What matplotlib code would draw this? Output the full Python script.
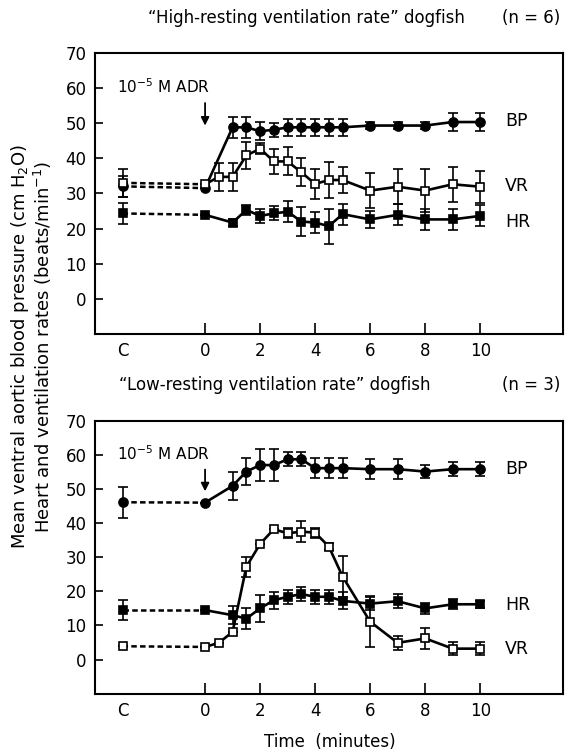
import matplotlib
matplotlib.use("Agg")
import matplotlib.pyplot as plt

plt.rcParams["font.family"] = ["DejaVu Sans"]

# time axis: -3 stands for the control value "C"
t_main = [-3, 0, 1, 1.5, 2, 2.5, 3, 3.5, 4, 4.5, 5, 6, 7, 8, 9, 10]
t_vr = [-3, 0, 0.5, 1, 1.5, 2, 2.5, 3, 3.5, 4, 4.5, 5, 6, 7, 8, 9, 10]

# "High-resting ventilation rate" dogfish (n = 6)
bp_hi = [32, 31.5, 48.8, 48.8, 47.7, 48.1, 48.8, 48.8, 48.8, 48.8, 48.8, 49.3, 49.3, 49.3, 50.3, 50.3]
bp_hi_err = [3, 0, 3, 3, 2.5, 2, 2.5, 2.5, 2.5, 2.5, 2.5, 1, 1, 1, 2.5, 2.5]
vr_hi = [33, 32.6, 34.7, 34.7, 40.8, 42.7, 39.1, 39.1, 36.0, 32.7, 33.8, 33.8, 30.8, 31.9, 30.8, 32.6, 31.9]
vr_hi_err = [4, 0, 4, 4, 3.8, 1.5, 3.5, 4, 4, 4.3, 5, 3.8, 5, 5, 6, 5, 4.5]
hr_hi = [24.3, 23.9, 21.7, 25.3, 23.6, 24.3, 24.8, 22.0, 21.7, 20.7, 24.1, 22.6, 23.9, 22.6, 22.6, 23.6]
hr_hi_err = [3, 0, 1, 1.5, 2, 2, 3, 4, 3, 5, 3, 2.5, 3, 3, 3, 3]

# "Low-resting ventilation rate" dogfish (n = 3)
bp_lo = [46.1, 46, 50.9, 55.1, 57, 57, 58.7, 58.7, 56.1, 56.1, 56.1, 55.8, 55.8, 55.1, 55.8, 55.8]
bp_lo_err = [4.6, 0, 4, 4, 4.7, 4.7, 2, 2, 3, 3, 3, 3, 3, 2, 2, 2]
vr_lo = [3.9, 3.7, 4.9, 8.1, 27.2, 33.9, 38.2, 37, 37.5, 37.2, 33.1, 24.3, 11.1, 4.9, 6.2, 3.2, 3.2]
vr_lo_err = [0, 0, 0, 0, 3, 0, 0, 1.5, 3, 1.5, 1, 6, 7.5, 2, 3, 2, 2]
hr_lo = [14.5, 14.5, 13, 12, 15, 17.4, 18.4, 19.2, 18.4, 18.4, 17.2, 16.4, 17.1, 15, 16.2, 16.2]
hr_lo_err = [3, 0, 2.7, 3, 4, 2.5, 2, 2, 2, 2, 2.5, 2, 2, 1.5, 1.5, 1]

xtick_pos = [-3, 0, 2, 4, 6, 8, 10]
xtick_lab = ["C", "0", "2", "4", "6", "8", "10"]
ytick_pos = [0, 10, 20, 30, 40, 50, 60, 70]


def draw_series(ax, t, y, err, marker, face, ms):
    ax.errorbar(t, y, yerr=err, fmt="none", ecolor="black", elinewidth=1.2,
                capsize=3.5, capthick=1.2, zorder=2)
    ax.plot(t[:2], y[:2], color="black", lw=1.8, ls=(0, (2.2, 1.3)), zorder=3)
    ax.plot(t[1:], y[1:], color="black", lw=1.9, zorder=3)
    ax.plot(t, y, ls="none", marker=marker, ms=ms, mfc=face, mec="black",
            mew=1.2, zorder=4)


def setup(ax):
    ax.set_xlim(-4, 13)
    ax.set_ylim(-10, 70)
    ax.set_xticks(xtick_pos)
    ax.set_xticklabels(xtick_lab)
    ax.set_yticks(ytick_pos)
    ax.tick_params(direction="in", length=6, width=1.2, labelsize=12, pad=6)
    ax.tick_params(axis="x", length=8)
    ax.xaxis.get_major_ticks()[0].tick1line.set_visible(False)
    for s in ax.spines.values():
        s.set_linewidth(1.5)


fig = plt.figure(figsize=(5.69, 7.54), dpi=100)
ax1 = fig.add_axes([0.167, 0.557, 0.822, 0.373])
ax2 = fig.add_axes([0.167, 0.080, 0.822, 0.362])

for ax, bp, bpe, vr, vre, hr, hre in [
        (ax1, bp_hi, bp_hi_err, vr_hi, vr_hi_err, hr_hi, hr_hi_err),
        (ax2, bp_lo, bp_lo_err, vr_lo, vr_lo_err, hr_lo, hr_lo_err)]:
    setup(ax)
    draw_series(ax, t_main, hr, hre, "s", "black", 6)
    draw_series(ax, t_main, bp, bpe, "o", "black", 6.5)
    draw_series(ax, t_vr, vr, vre, "s", "white", 6)
    ax.text(-1.5, 60.3, "10$^{-5}$ M ADR", ha="center", va="center", fontsize=11)
    ax.annotate("", xy=(0, 48.5), xytext=(0, 56.5),
                arrowprops=dict(arrowstyle="-|>", color="black", lw=1.3,
                                mutation_scale=12))

ax1.text(10.9, 50.5, "BP", fontsize=12.5, va="center")
ax1.text(10.9, 32, "VR", fontsize=12.5, va="center")
ax1.text(10.9, 22, "HR", fontsize=12.5, va="center")
ax2.text(10.9, 55.8, "BP", fontsize=12.5, va="center")
ax2.text(10.9, 16, "HR", fontsize=12.5, va="center")
ax2.text(10.9, 3, "VR", fontsize=12.5, va="center")

fig.text(0.26, 0.976, "\u201cHigh-resting ventilation rate\u201d dogfish",
         fontsize=12, ha="left", va="center")
fig.text(0.985, 0.976, "(n = 6)", fontsize=12, ha="right", va="center")
fig.text(0.21, 0.489, "\u201cLow-resting ventilation rate\u201d dogfish",
         fontsize=12, ha="left", va="center")
fig.text(0.985, 0.489, "(n = 3)", fontsize=12, ha="right", va="center")

fig.text(0.58, 0.016, "Time  (minutes)", fontsize=12, ha="center", va="center")
fig.text(0.035, 0.54, "Mean ventral aortic blood pressure (cm H$_2$O)",
         rotation=90, fontsize=13, ha="center", va="center")
fig.text(0.075, 0.54, "Heart and ventilation rates (beats/min$^{-1}$)",
         rotation=90, fontsize=13, ha="center", va="center")

fig.savefig("out.png", dpi=100)
